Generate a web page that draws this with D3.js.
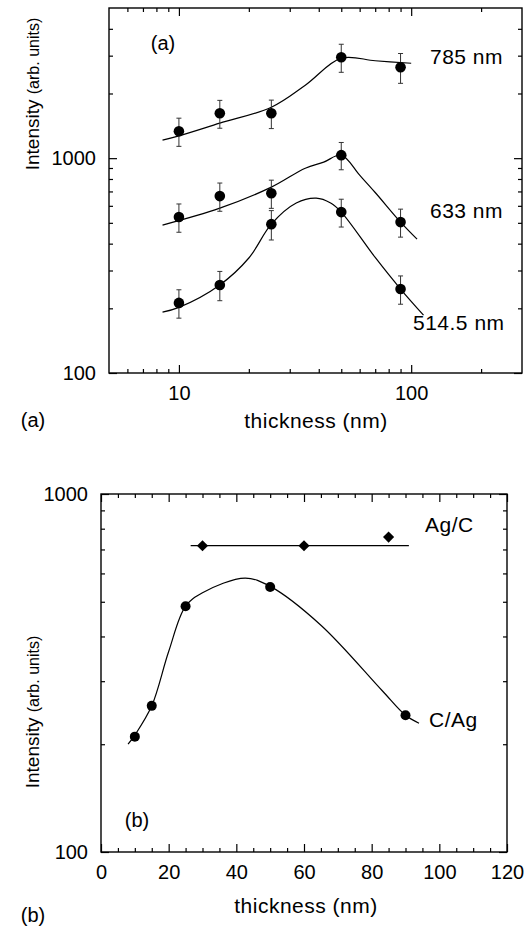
<!DOCTYPE html>
<html>
<head>
<meta charset="utf-8">
<script src="https://cdn.jsdelivr.net/npm/d3@7/dist/d3.min.js"></script>
<style>
  body { margin: 0; background: #fff; }
  svg text { font-family: "Liberation Sans", Arial, sans-serif; fill: #000; }
</style>
</head>
<body>
<div id="chart"></div>
<script>
// panel (a) : log-log, three laser lines
const thickA = [10, 15, 25, 50, 90];
const i785 = [1335, 1618, 1618, 2950, 2650];
const e785 = [200, 240, 245, 440, 420];
const i633 = [532, 666, 687, 1033, 504];
const e633 = [80, 100, 103, 150, 75];
const i514 = [212, 257, 493, 561, 246];
const e514 = [32, 40, 77, 83, 37];

// smooth guide curves
const fit785X = [8.5, 10, 15, 25, 35, 50, 70, 100];
const fit785Y = [1213, 1270, 1455, 1727, 2186, 2920, 2840, 2766];
const fit633X = [8.5, 15, 25, 35, 42, 50, 60, 70, 90, 106];
const fit633Y = [488, 585, 733, 898, 958, 1033, 833, 692, 504, 420];
const fit514X = [8.5, 10, 15, 20, 25, 32, 39, 45, 50, 70, 90, 113];
const fit514Y = [192, 202, 257, 343, 493, 618, 651, 618, 561, 345, 246, 186];

// panel (b) : lin-log
const thickCAg = [10, 15, 25, 50, 90];
const iCAg = [210, 256, 486, 550, 241];
const thickAgC = [30, 60, 85];
const iAgC = [717, 717, 758];
const fitCAgX = [8, 10, 15, 20, 25, 30, 42.6, 50, 65, 83, 90, 94];
const fitCAgY = [200, 212, 256, 363, 486, 530, 582, 552, 430, 283, 241, 229];
const fitAgCX = [26.5, 91];
const fitAgCY = [717, 717];

// ticks
const xMajA = [10, 100];
const xMinA = [6, 7, 8, 9, 20, 30, 40, 50, 60, 70, 80, 90, 200];
const yMajA = [100, 1000];
const yMinA = [200, 300, 400, 500, 600, 700, 800, 900, 2000, 3000, 4000];
const xMajB = [0, 20, 40, 60, 80, 100, 120];
const xMinB = d3.range(5, 120, 5).filter(v => v % 20 !== 0);
const yMajB = [100, 1000];
const yMinB = [200, 300, 400, 500, 600, 700, 800, 900];

const W = 525, H = 927;
const svg = d3.select("#chart").append("svg").attr("width", W).attr("height", H);
svg.append("rect").attr("width", W).attr("height", H).attr("fill", "#fff");

const x1 = d3.scaleLog().domain([5, 300]).range([109, 522]);
const y1 = d3.scaleLog().domain([100, 5000]).range([373, 8]);
const x2 = d3.scaleLinear().domain([0, 120]).range([101, 507]);
const y2 = d3.scaleLog().domain([100, 1000]).range([852, 494]);

function frame(x, y, xMaj, xMin, yMaj, yMin) {
  const [l, r] = x.range(), [b, t] = y.range();
  const g = svg.append("g");
  const fmt = d => d3.format("d")(d);

  function ax(gen, tr, vals, size, labels) {
    const a = gen.tickValues(vals).tickSizeInner(-size).tickSizeOuter(0)
      .tickPadding(labels ? 13 : 0).tickFormat(labels ? fmt : "");
    const s = g.append("g").attr("transform", tr).call(a);
    s.select(".domain").remove();
    s.selectAll("line").attr("stroke", "#000").attr("stroke-width", 1.2);
    s.selectAll("text").style("font-size", "20px");
    return s;
  }
  ax(d3.axisBottom(x), `translate(0,${b})`, xMaj, 8, true);
  ax(d3.axisBottom(x), `translate(0,${b})`, xMin, 4, false);
  ax(d3.axisTop(x), `translate(0,${t})`, xMaj, 8, false);
  ax(d3.axisTop(x), `translate(0,${t})`, xMin, 4, false);
  ax(d3.axisLeft(y), `translate(${l},0)`, yMaj, 8, true);
  ax(d3.axisLeft(y), `translate(${l},0)`, yMin, 4, false);
  ax(d3.axisRight(y), `translate(${r},0)`, yMaj, 8, false);
  ax(d3.axisRight(y), `translate(${r},0)`, yMin, 4, false);

  g.append("rect").attr("x", l).attr("y", t).attr("width", r - l).attr("height", b - t)
    .attr("fill", "none").attr("stroke", "#000").attr("stroke-width", 1.4);
}

function curve(x, y, xs, ys) {
  const pts = xs.map((v, i) => [v, ys[i]]);
  svg.append("path").datum(pts)
    .attr("fill", "none").attr("stroke", "#000").attr("stroke-width", 1.2)
    .attr("d", d3.line().x(d => x(d[0])).y(d => y(d[1])).curve(d3.curveCatmullRom.alpha(0.5)));
}

function dots(x, y, xs, ys, errs, r) {
  const pts = xs.map((v, i) => ({ t: v, v: ys[i], e: errs ? errs[i] : 0 }));
  if (errs) {
    const eb = svg.append("g").attr("stroke", "#333").attr("stroke-width", 1);
    pts.forEach(p => {
      const cx = x(p.t), y0 = y(p.v + p.e), y1_ = y(p.v - p.e);
      eb.append("line").attr("x1", cx).attr("x2", cx).attr("y1", y0).attr("y2", y1_);
      eb.append("line").attr("x1", cx - 2.5).attr("x2", cx + 2.5).attr("y1", y0).attr("y2", y0);
      eb.append("line").attr("x1", cx - 2.5).attr("x2", cx + 2.5).attr("y1", y1_).attr("y2", y1_);
    });
  }
  svg.append("g").selectAll("circle").data(pts).enter().append("circle")
    .attr("cx", d => x(d.t)).attr("cy", d => y(d.v)).attr("r", r).attr("fill", "#000");
}

function label(x, y, txt, size, anchor) {
  return svg.append("text").attr("x", x).attr("y", y).attr("text-anchor", anchor || "start")
    .style("font-size", size + "px").text(txt);
}

function yTitle(cx, cy) {
  const t = svg.append("text").attr("transform", `translate(${cx},${cy}) rotate(-90)`)
    .attr("text-anchor", "middle");
  t.append("tspan").style("font-size", "19px").text("Intensity ");
  t.append("tspan").style("font-size", "16px").text("(arb. units)");
}

// ---- panel (a)
frame(x1, y1, xMajA, xMinA, yMajA, yMinA);
curve(x1, y1, fit785X, fit785Y);
curve(x1, y1, fit633X, fit633Y);
curve(x1, y1, fit514X, fit514Y);
dots(x1, y1, thickA, i785, e785, 5.3);
dots(x1, y1, thickA, i633, e633, 5.3);
dots(x1, y1, thickA, i514, e514, 5.3);

label(430, 64, "785 nm", 21).style("letter-spacing", "0.5px");
label(430, 218, "633 nm", 21).style("letter-spacing", "0.5px");
label(413, 330, "514.5 nm", 21).style("letter-spacing", "0.5px");
label(163, 50, "(a)", 20, "middle");
label(33, 427, "(a)", 20, "middle");
label(316, 428, "thickness (nm)", 21, "middle").style("letter-spacing", "0.5px");
yTitle(39, 94);

// ---- panel (b)
frame(x2, y2, xMajB, xMinB, yMajB, yMinB);
curve(x2, y2, fitCAgX, fitCAgY);
curve(x2, y2, fitAgCX, fitAgCY);
dots(x2, y2, thickCAg, iCAg, null, 5);
svg.append("g").selectAll("path").data(thickAgC.map((t, i) => [t, iAgC[i]])).enter().append("path")
  .attr("d", d3.symbol(d3.symbolSquare, 62))
  .attr("transform", d => `translate(${x2(d[0])},${y2(d[1])}) rotate(45)`)
  .attr("fill", "#000");

label(425, 532, "Ag/C", 21).style("letter-spacing", "0.5px");
label(429, 727, "C/Ag", 21).style("letter-spacing", "0.5px");
label(137, 827, "(b)", 20, "middle");
label(33, 922, "(b)", 20, "middle");
label(306, 913, "thickness (nm)", 21, "middle").style("letter-spacing", "0.5px");
yTitle(39, 712);
</script>
</body>
</html>
